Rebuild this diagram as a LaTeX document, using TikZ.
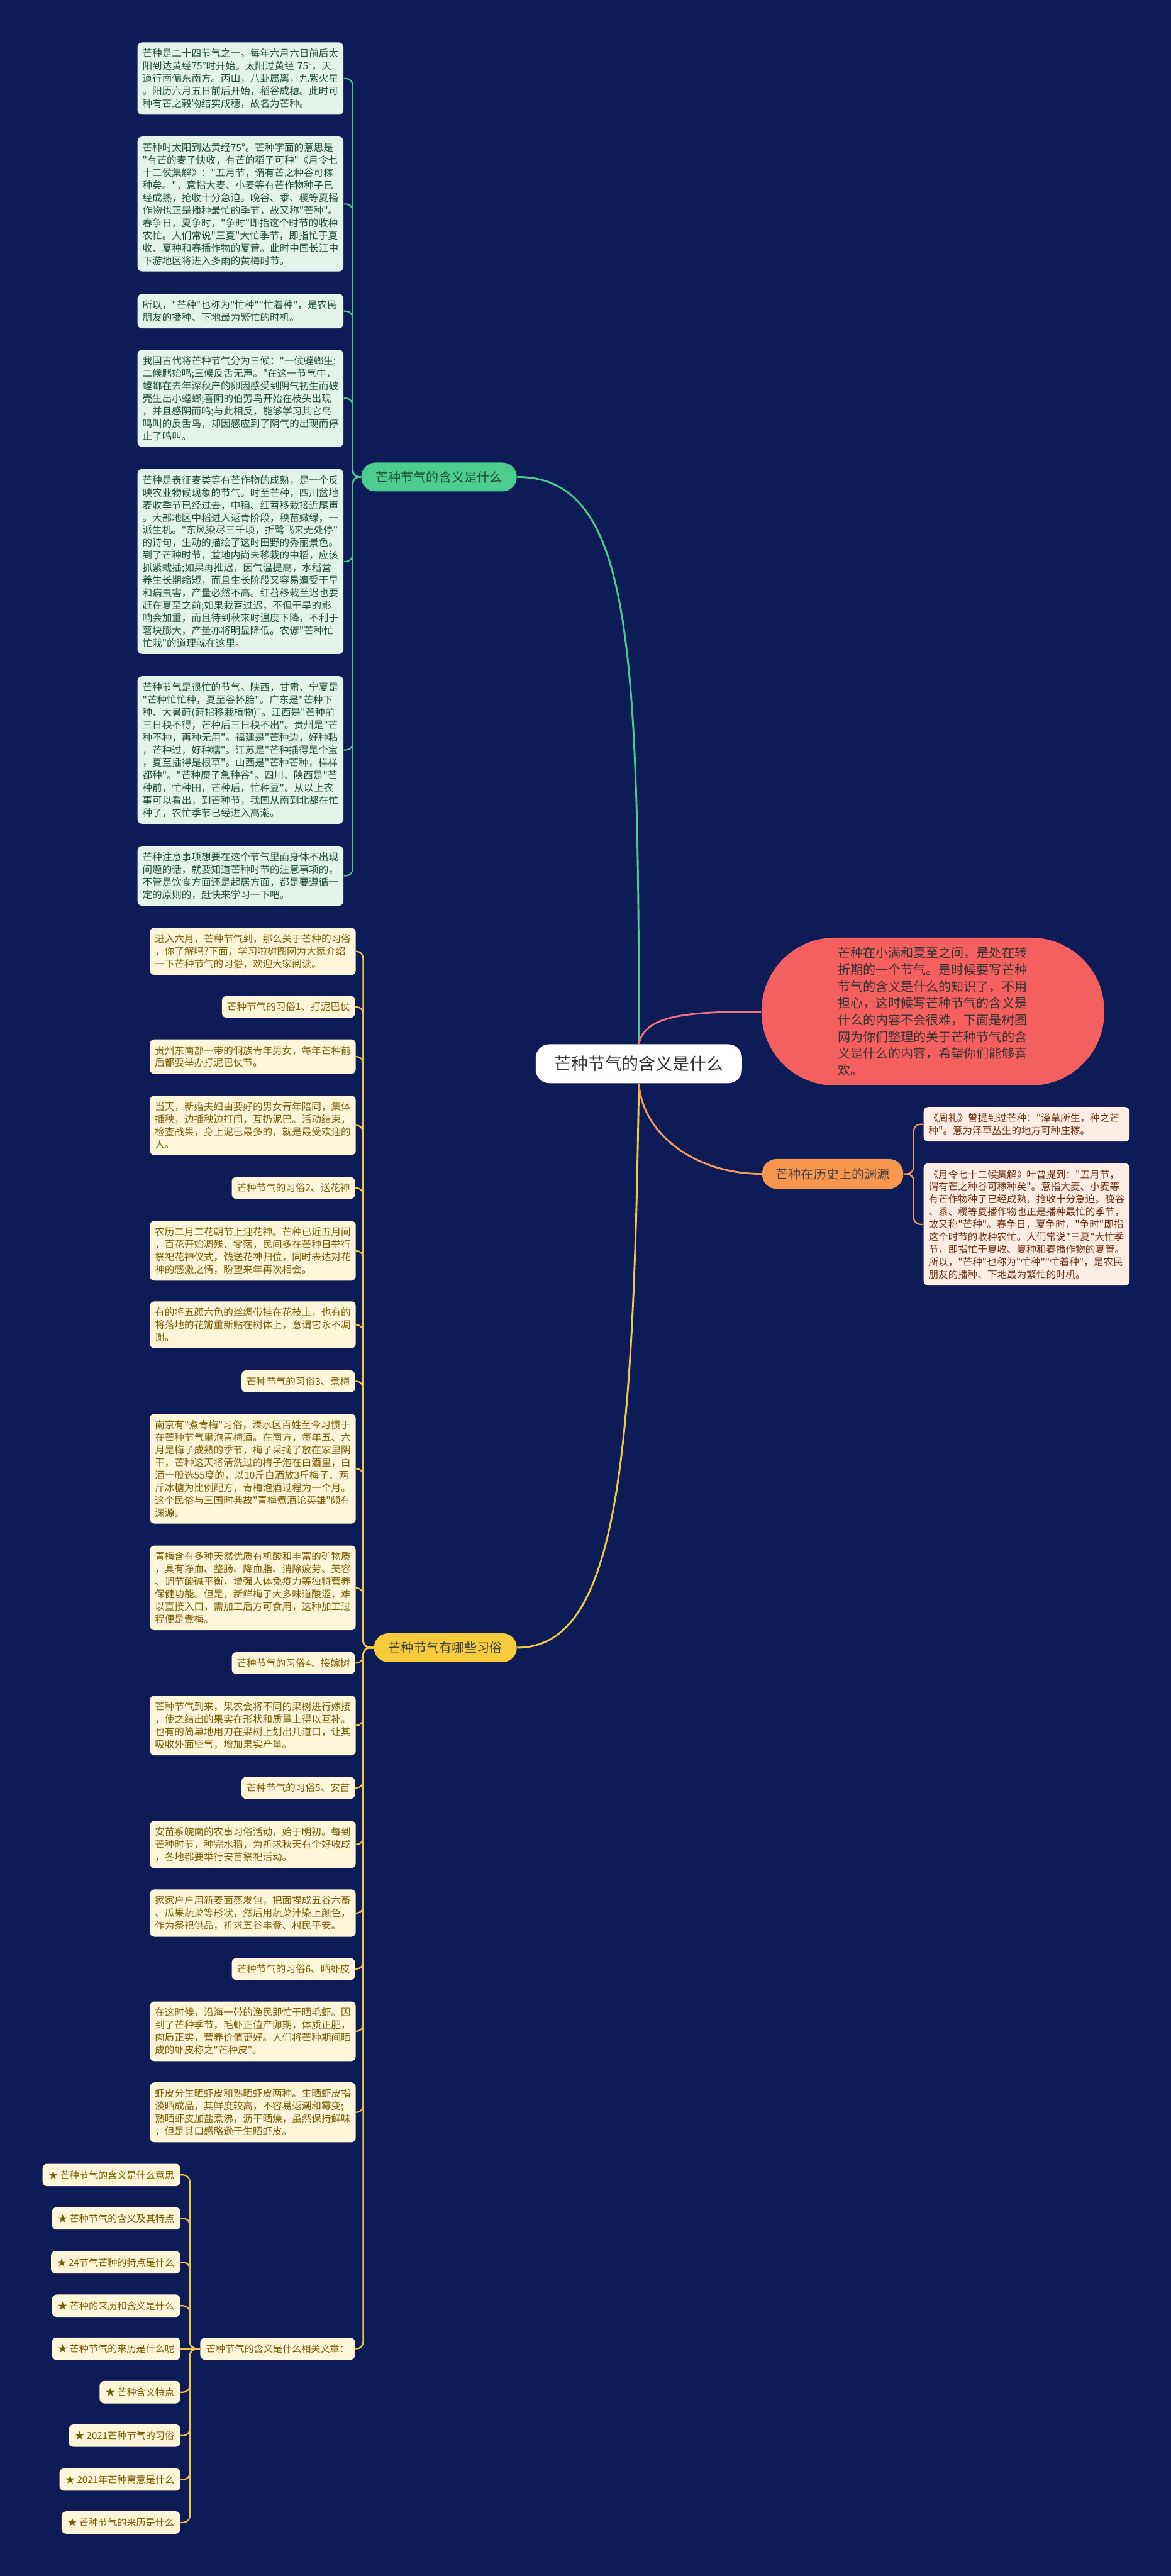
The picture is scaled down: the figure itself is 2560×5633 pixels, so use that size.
\documentclass[tikz,border=0pt]{standalone}
\usepackage{fontspec}
\setmainfont{Noto Sans CJK SC}[Ligatures=TeXOff]
\definecolor{navybg}{HTML}{0D1B57}
\definecolor{mintfill}{HTML}{E3F5EB}
\definecolor{mintink}{HTML}{1E4F32}
\definecolor{greenline}{HTML}{4CC98C}
\definecolor{greennode}{HTML}{4CCD8E}
\definecolor{creamfill}{HTML}{FFF6DA}
\definecolor{goldink}{HTML}{7A5A00}
\definecolor{yellowline}{HTML}{F2C744}
\definecolor{yellownode}{HTML}{F6CB3C}
\definecolor{peachfill}{HTML}{FDEDE2}
\definecolor{brownink}{HTML}{6B2E0E}
\definecolor{orangeline}{HTML}{F59A5A}
\definecolor{orangenode}{HTML}{F7964F}
\definecolor{redblob}{HTML}{F45F5F}
\definecolor{pinkline}{HTML}{EE6E79}
\newcommand{\leaffont}{\fontsize{6.09pt}{7.8pt}\selectfont}
\newcommand{\relfont}{\fontsize{5.92pt}{7.4pt}\selectfont}
\newcommand{\branchfont}{\fontsize{7.85pt}{9.4pt}\selectfont}
\newcommand{\introfont}{\fontsize{7.85pt}{10.44pt}\selectfont}
\newcommand{\rootfont}{\fontsize{10.5pt}{12.6pt}\selectfont}
\tikzset{
  meanbox/.style={fill=mintfill, text=mintink, rounded corners=0.1cm, font=\leaffont,
    text width=4.28cm, align=left, inner xsep=0.11cm, inner ysep=0.14cm, anchor=north west},
  custbox/.style={meanbox, fill=creamfill, text=goldink},
  custhead/.style={fill=creamfill, text=goldink, rounded corners=0.1cm, font=\leaffont,
    inner xsep=0.11cm, inner ysep=0.14cm, anchor=north east},
  histbox/.style={meanbox, fill=peachfill, text=brownink},
  relitem/.style={fill=creamfill, text=goldink, rounded corners=0.1cm, font=\relfont,
    inner xsep=0.13cm, minimum height=0.49cm, anchor=east},
  branch/.style={rounded corners=0.31cm, font=\branchfont, minimum height=0.63cm, inner xsep=0.3cm},
  rootbox/.style={fill=white, text=black!80, rounded corners=0.3cm, font=\rootfont,
    minimum width=4.51cm, minimum height=0.85cm},
  gline/.style={draw=greenline, line width=0.03cm, rounded corners=0.15cm},
  yline/.style={draw=yellowline, line width=0.03cm, rounded corners=0.15cm},
  oline/.style={draw=orangeline, line width=0.03cm, rounded corners=0.15cm}
}
\begin{document}
\begin{tikzpicture}[x=0.01cm, y=-0.01cm]
  \useasboundingbox (0,0) rectangle (2560,5633);
  \fill[navybg] (0,0) rectangle (2560,5633);

  % Centre and main branches
  \node[rootbox] (root) at (1397,2326) {芒种节气的含义是什么};
  \node[branch, fill=greennode, text=mintink, minimum width=3.4cm] (bmean) at (960,1043) {芒种节气的含义是什么};
  \node[branch, fill=yellownode, text=black!75, minimum width=3.12cm] (bcust) at (974,3603) {芒种节气有哪些习俗};
  \node[branch, fill=orangenode, text=black!75, minimum width=3.06cm, minimum height=0.65cm] (hist) at (1821,2567) {芒种在历史上的渊源};
  \node[fill=redblob, text=black!80, rounded corners=1.6cm, minimum width=7.49cm, minimum height=3.23cm,
    text width=4.16cm, align=left, font=\introfont] (intro) at (2040,2212) {芒种在小满和夏至之间，是处在转\\折期的一个节气。是时候要写芒种\\节气的含义是什么的知识了，不用\\担心，这时候写芒种节气的含义是\\什么的内容不会很难，下面是树图\\网为你们整理的关于芒种节气的含\\义是什么的内容，希望你们能够喜\\欢。};

  \draw[greenline, line width=0.04cm] (root.north) .. controls (1397,1400) and (1380,1043) .. (bmean.east);
  \draw[yellowline, line width=0.04cm] (root.south) .. controls (1385,3200) and (1350,3603) .. (bcust.east);
  \draw[orangeline, line width=0.04cm] (root.south) .. controls (1405,2480) and (1520,2567) .. (hist.west);
  \draw[pinkline, line width=0.04cm] (root.north) .. controls (1410,2220) and (1500,2212) .. (intro.west);

  % Meaning
  \node[meanbox] (mean1) at (300,92) {芒种是二十四节气之一。每年六月六日前后太\\阳到达黄经75°时开始。太阳过黄经~75°，天\\道行南偏东南方。丙山，八卦属离，九紫火星\\。阳历六月五日前后开始，稻谷成穗。此时可\\种有芒之榖物结实成穗，故名为芒种。};
  \node[meanbox] (mean2) at (300,298) {芒种时太阳到达黄经75°。芒种字面的意思是\\"有芒的麦子快收，有芒的稻子可种"《月令七\\十二侯集解》："五月节，谓有芒之种谷可稼\\种矣。"，意指大麦、小麦等有芒作物种子已\\经成熟，抢收十分急迫。晚谷、黍、稷等夏播\\作物也正是播种最忙的季节，故又称"芒种"。\\春争日，夏争时，"争时"即指这个时节的收种\\农忙。人们常说"三夏"大忙季节，即指忙于夏\\收、夏种和春播作物的夏管。此时中国长江中\\下游地区将进入多雨的黄梅时节。};
  \node[meanbox] (mean3) at (300,642) {所以，"芒种"也称为"忙种""忙着种"，是农民\\朋友的播种、下地最为繁忙的时机。};
  \node[meanbox] (mean4) at (300,764) {我国古代将芒种节气分为三候："一候螳螂生;\\二候鹏始鸣;三候反舌无声。"在这一节气中，\\螳螂在去年深秋产的卵因感受到阴气初生而破\\壳生出小螳螂;喜阴的伯劳鸟开始在枝头出现\\，并且感阴而鸣;与此相反，能够学习其它鸟\\鸣叫的反舌鸟，却因感应到了阴气的出现而停\\止了鸣叫。};
  \node[meanbox] (mean5) at (300,1025) {芒种是表征麦类等有芒作物的成熟，是一个反\\映农业物候现象的节气。时至芒种，四川盆地\\麦收季节已经过去，中稻、红苕移栽接近尾声\\。大部地区中稻进入返青阶段，秧苗嫩绿，一\\派生机。"东风染尽三千顷，折鹭飞来无处停"\\的诗句，生动的描绘了这时田野的秀丽景色。\\到了芒种时节，盆地内尚未移栽的中稻，应该\\抓紧栽插;如果再推迟，因气温提高，水稻营\\养生长期缩短，而且生长阶段又容易遭受干旱\\和病虫害，产量必然不高。红苕移栽至迟也要\\赶在夏至之前;如果栽苕过迟，不但干旱的影\\响会加重，而且待到秋来时温度下降，不利于\\薯块膨大，产量亦将明显降低。农谚"芒种忙\\忙栽"的道理就在这里。};
  \node[meanbox] (mean6) at (300,1478) {芒种节气是很忙的节气。陕西，甘肃、宁夏是\\"芒种忙忙种，夏至谷怀胎"。广东是"芒种下\\种、大暑莳(莳指移栽植物)"。江西是"芒种前\\三日秧不得，芒种后三日秧不出"。贵州是"芒\\种不种，再种无用"。福建是"芒种边，好种粘\\，芒种过，好种糯"。江苏是"芒种插得是个宝\\，夏至插得是根草"。山西是"芒种芒种，样样\\都种"。"芒种糜子急种谷"。四川、陕西是"芒\\种前，忙种田，芒种后，忙种豆"。从以上农\\事可以看出，到芒种节，我国从南到北都在忙\\种了，农忙季节已经进入高潮。};
  \node[meanbox] (mean7) at (300,1849) {芒种注意事项想要在这个节气里面身体不出现\\问题的话，就要知道芒种时节的注意事项的，\\不管是饮食方面还是起居方面，都是要遵循一\\定的原则的，赶快来学习一下吧。};

  \draw[gline] (bmean.west) -- ++(-18,0) |- (mean1.east);
  \draw[gline] (bmean.west) -- ++(-18,0) |- (mean2.east);
  \draw[gline] (bmean.west) -- ++(-18,0) |- (mean3.east);
  \draw[gline] (bmean.west) -- ++(-18,0) |- (mean4.east);
  \draw[gline] (bmean.west) -- ++(-18,0) |- (mean5.east);
  \draw[gline] (bmean.west) -- ++(-18,0) |- (mean6.east);
  \draw[gline] (bmean.west) -- ++(-18,0) |- (mean7.east);

  % Customs
  \node[custbox] (cust1) at (327,2028) {进入六月，芒种节气到，那么关于芒种的习俗\\，你了解吗?下面，学习啦树图网为大家介绍\\一下芒种节气的习俗，欢迎大家阅读。};
  \node[custhead] (cust2) at (777,2177) {芒种节气的习俗1、打泥巴仗};
  \node[custbox] (cust3) at (327,2272) {贵州东南部一带的侗族青年男女，每年芒种前\\后都要举办打泥巴仗节。};
  \node[custbox] (cust4) at (327,2395) {当天，新婚夫妇由要好的男女青年陪同，集体\\插秧，边插秧边打闹，互扔泥巴。活动结束，\\检查战果，身上泥巴最多的，就是最受欢迎的\\人。};
  \node[custhead] (cust5) at (777,2573) {芒种节气的习俗2、送花神};
  \node[custbox] (cust6) at (327,2669) {农历二月二花朝节上迎花神。芒种已近五月间\\，百花开始凋残、零落，民间多在芒种日举行\\祭祀花神仪式，饯送花神归位，同时表达对花\\神的感激之情，盼望来年再次相会。};
  \node[custbox] (cust7) at (327,2845) {有的将五颜六色的丝绸带挂在花枝上，也有的\\将落地的花瓣重新贴在树体上，意谓它永不凋\\谢。};
  \node[custhead] (cust8) at (777,2996) {芒种节气的习俗3、煮梅};
  \node[custbox] (cust9) at (327,3091) {南京有"煮青梅"习俗，溧水区百姓至今习惯于\\在芒种节气里泡青梅酒。在南方，每年五、六\\月是梅子成熟的季节，梅子采摘了放在家里阴\\干，芒种这天将清洗过的梅子泡在白酒里，白\\酒一般选55度的，以10斤白酒放3斤梅子、两\\斤冰糖为比例配方，青梅泡酒过程为一个月。\\这个民俗与三国时典故"青梅煮酒论英雄"颇有\\渊源。};
  \node[custbox] (cust10) at (327,3379) {青梅含有多种天然优质有机酸和丰富的矿物质\\，具有净血、整肠、降血脂、消除疲劳、美容\\、调节酸碱平衡，增强人体免疫力等独特营养\\保健功能。但是，新鲜梅子大多味道酸涩，难\\以直接入口，需加工后方可食用，这种加工过\\程便是煮梅。};
  \node[custhead] (cust11) at (777,3612) {芒种节气的习俗4、接嫁树};
  \node[custbox] (cust12) at (327,3707) {芒种节气到来，果农会将不同的果树进行嫁接\\，使之结出的果实在形状和质量上得以互补。\\也有的简单地用刀在果树上划出几道口，让其\\吸收外面空气，增加果实产量。};
  \node[custhead] (cust13) at (777,3885) {芒种节气的习俗5、安苗};
  \node[custbox] (cust14) at (327,3981) {安苗系皖南的农事习俗活动，始于明初。每到\\芒种时节，种完水稻，为祈求秋天有个好收成\\，各地都要举行安苗祭祀活动。};
  \node[custbox] (cust15) at (327,4131) {家家户户用新麦面蒸发包，把面捏成五谷六畜\\、瓜果蔬菜等形状，然后用蔬菜汁染上颜色，\\作为祭祀供品，祈求五谷丰登、村民平安。};
  \node[custhead] (cust16) at (777,4281) {芒种节气的习俗6、晒虾皮};
  \node[custbox] (cust17) at (327,4376) {在这时候，沿海一带的渔民即忙于晒毛虾。因\\到了芒种季节，毛虾正值产卵期，体质正肥，\\肉质正实，营养价值更好。人们将芒种期间晒\\成的虾皮称之"芒种皮"。};
  \node[custbox] (cust18) at (327,4553) {虾皮分生晒虾皮和熟晒虾皮两种。生晒虾皮指\\淡晒成品，其鲜度较高，不容易返潮和霉变;\\熟晒虾皮加盐煮沸，沥干晒燥，虽然保持鲜味\\，但是其口感略逊于生晒虾皮。};
  \node[relitem, minimum height=0.48cm] (rel) at (777,5136) {芒种节气的含义是什么相关文章：};

  \draw[yline] (bcust.west) -- ++(-23,0) |- (cust1.east);
  \draw[yline] (bcust.west) -- ++(-23,0) |- (cust2.east);
  \draw[yline] (bcust.west) -- ++(-23,0) |- (cust3.east);
  \draw[yline] (bcust.west) -- ++(-23,0) |- (cust4.east);
  \draw[yline] (bcust.west) -- ++(-23,0) |- (cust5.east);
  \draw[yline] (bcust.west) -- ++(-23,0) |- (cust6.east);
  \draw[yline] (bcust.west) -- ++(-23,0) |- (cust7.east);
  \draw[yline] (bcust.west) -- ++(-23,0) |- (cust8.east);
  \draw[yline] (bcust.west) -- ++(-23,0) |- (cust9.east);
  \draw[yline] (bcust.west) -- ++(-23,0) |- (cust10.east);
  \draw[yline] (bcust.west) -- ++(-23,0) |- (cust11.east);
  \draw[yline] (bcust.west) -- ++(-23,0) |- (cust12.east);
  \draw[yline] (bcust.west) -- ++(-23,0) |- (cust13.east);
  \draw[yline] (bcust.west) -- ++(-23,0) |- (cust14.east);
  \draw[yline] (bcust.west) -- ++(-23,0) |- (cust15.east);
  \draw[yline] (bcust.west) -- ++(-23,0) |- (cust16.east);
  \draw[yline] (bcust.west) -- ++(-23,0) |- (cust17.east);
  \draw[yline] (bcust.west) -- ++(-23,0) |- (cust18.east);
  \draw[yline] (bcust.west) -- ++(-23,0) |- (rel.east);

  % Related articles
  \node[relitem] (rel1) at (395,4756) {★ 芒种节气的含义是什么意思};
  \node[relitem] (rel2) at (395,4851) {★ 芒种节气的含义及其特点};
  \node[relitem] (rel3) at (395,4947) {★ 24节气芒种的特点是什么};
  \node[relitem] (rel4) at (395,5042) {★ 芒种的来历和含义是什么};
  \node[relitem] (rel5) at (395,5136) {★ 芒种节气的来历是什么呢};
  \node[relitem] (rel6) at (395,5231) {★ 芒种含义特点};
  \node[relitem] (rel7) at (395,5326) {★ 2021芒种节气的习俗};
  \node[relitem] (rel8) at (395,5422) {★ 2021年芒种寓意是什么};
  \node[relitem] (rel9) at (395,5516) {★ 芒种节气的来历是什么};

  \draw[yline] (rel.west) -- ++(-22,0) |- (rel1.east);
  \draw[yline] (rel.west) -- ++(-22,0) |- (rel2.east);
  \draw[yline] (rel.west) -- ++(-22,0) |- (rel3.east);
  \draw[yline] (rel.west) -- ++(-22,0) |- (rel4.east);
  \draw[yline] (rel.west) -- (rel5.east);
  \draw[yline] (rel.west) -- ++(-22,0) |- (rel6.east);
  \draw[yline] (rel.west) -- ++(-22,0) |- (rel7.east);
  \draw[yline] (rel.west) -- ++(-22,0) |- (rel8.east);
  \draw[yline] (rel.west) -- ++(-22,0) |- (rel9.east);

  % History
  \node[histbox] (hist1) at (2019,2420) {《周礼》曾提到过芒种："泽草所生，种之芒\\种"。意为泽草丛生的地方可种庄稼。};
  \node[histbox] (hist2) at (2019,2543) {《月令七十二候集解》叶曾提到："五月节，\\谓有芒之种谷可稼种矣"。意指大麦、小麦等\\有芒作物种子已经成熟，抢收十分急迫。晚谷\\、黍、稷等夏播作物也正是播种最忙的季节，\\故又称"芒种"。春争日，夏争时，"争时"即指\\这个时节的收种农忙。人们常说"三夏"大忙季\\节，即指忙于夏收、夏种和春播作物的夏管。\\所以，"芒种"也称为"忙种""忙着种"，是农民\\朋友的播种、下地最为繁忙的时机。};

  \draw[oline] (hist.east) -- ++(22,0) |- (hist1.west);
  \draw[oline] (hist.east) -- ++(22,0) |- (hist2.west);
\end{tikzpicture}
\end{document}
